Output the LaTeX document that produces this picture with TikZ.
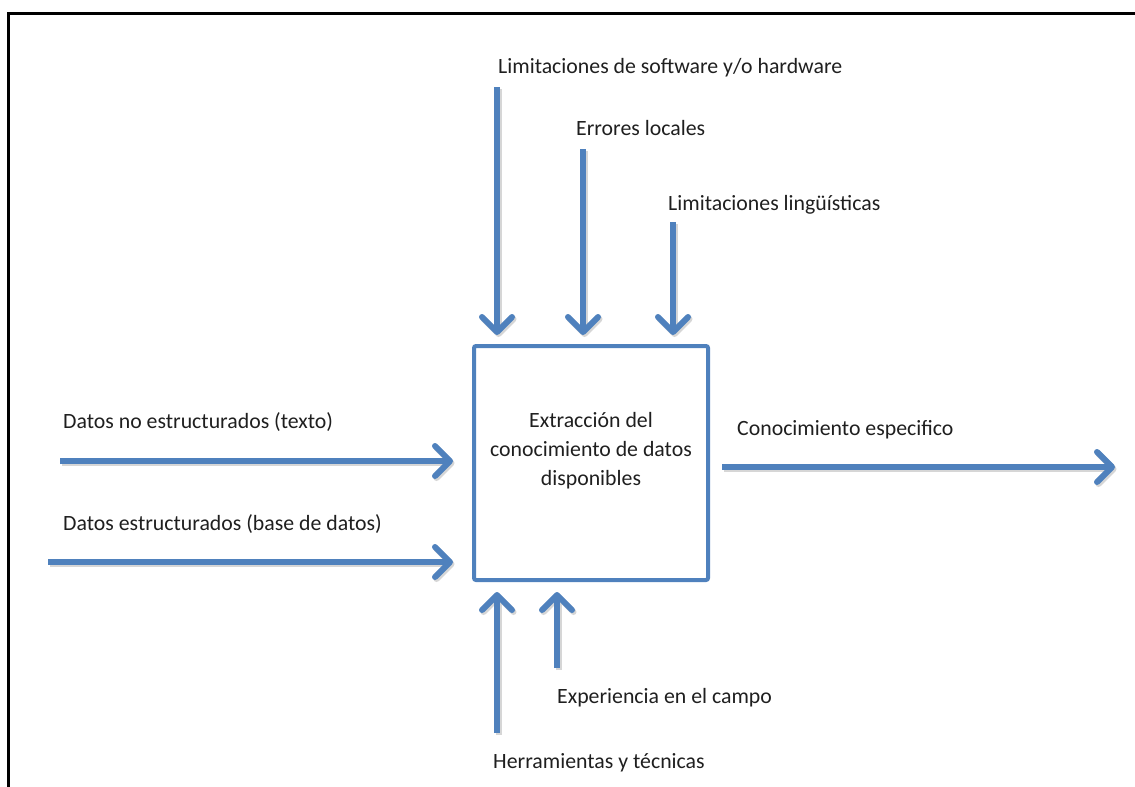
\documentclass[tikz,border=0pt]{standalone}
\usepackage{fontspec}
\setmainfont{Carlito}
\usetikzlibrary{arrows.meta}
\definecolor{flowblue}{HTML}{4F81BD}

\begin{document}
\begin{tikzpicture}[x=1pt,y=-1pt,
  lbl/.style={anchor=base west, inner sep=0pt, text=black!88,
              font=\fontsize{21.8}{26}\selectfont},
  flow/.style={draw=flowblue, line width=6pt,
               -{Straight Barb[length=15pt,width=30pt,round]},
               preaction={draw=black!16, line width=6pt,
                          transform canvas={shift={(1.5pt,-2pt)}}}},
  procbox/.style={draw=flowblue, line width=4pt, rounded corners=2pt,
                  minimum width=234pt, minimum height=234pt,
                  inner sep=0pt, outer sep=0pt}]
\useasboundingbox (0,0) rectangle (1135,787);

% page frame (only top and left edges fall inside the picture)
\draw[line width=3pt, black] (8.8,787) -- (8.8,13.8) -- (1135,13.8);

% process box
\node[procbox] (proc) at (591,463) {};
\node[align=center, inner sep=0pt, text=black!88,
      font=\fontsize{21.8}{29}\selectfont] (proctext) at (591,451)
  {Extracción del\\conocimiento de datos\\disponibles};

% controls from above
\coordinate (c1) at (497,87);
\coordinate (c2) at (583,149);
\coordinate (c3) at (673,222);
\node[lbl] (lc1) at (498,73) {Limitaciones de software y/o hardware};
\node[lbl] (lc2) at (576,135) {Errores locales};
\node[lbl] (lc3) at (668,210) {Limitaciones lingüísticas};
\draw[flow, shorten >=11pt] (c1) -- (c1 |- proc.north);
\draw[flow, shorten >=11pt] (c2) -- (c2 |- proc.north);
\draw[flow, shorten >=11pt] (c3) -- (c3 |- proc.north);

% inputs from the left
\coordinate (i1) at (60,461);
\coordinate (i2) at (48,562);
\node[lbl] (li1) at (63,428) {Datos no estructurados (texto)};
\node[lbl] (li2) at (63,530) {Datos estructurados (base de datos)};
\draw[flow, shorten >=21pt] (i1) -- (i1 -| proc.west);
\draw[flow, shorten >=21pt] (i2) -- (i2 -| proc.west);

% output to the right
\coordinate (o1) at (1115,467);
\node[lbl] (lo1) at (737,435) {Conocimiento especifico};
\draw[flow, shorten <=14pt] (o1 -| proc.east) -- (o1);

% mechanisms from below
\coordinate (m1) at (497,733);
\coordinate (m2) at (557,668);
\node[lbl] (lm1) at (493,768) {Herramientas y técnicas};
\node[lbl] (lm2) at (557,703) {Experiencia en el campo};
\draw[flow, shorten >=12pt] (m1) -- (m1 |- proc.south);
\draw[flow, shorten >=12pt] (m2) -- (m2 |- proc.south);
\end{tikzpicture}
\end{document}
